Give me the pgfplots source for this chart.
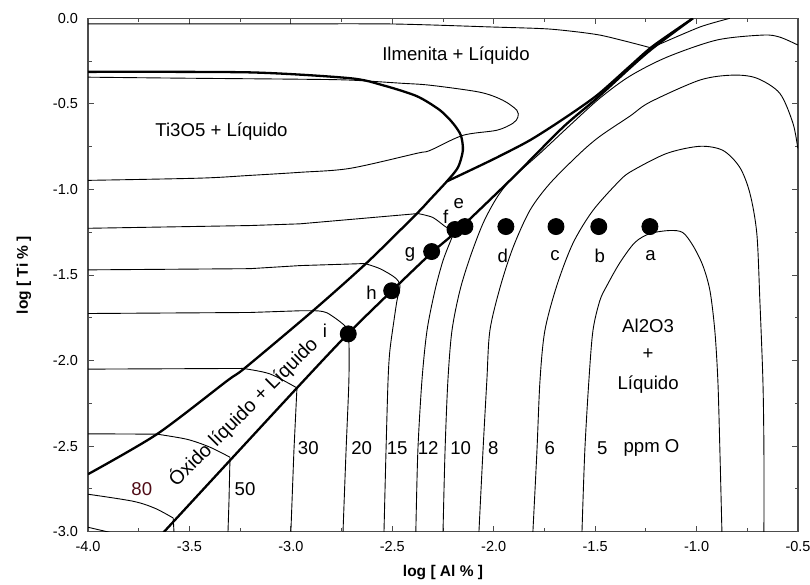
\documentclass[border=0pt]{standalone}
\usepackage{fontspec}
\setmainfont{Liberation Sans}
\usepackage{pgfplots}
\pgfplotsset{compat=1.18}

\newcommand{\lab}{\fontsize{18.6}{20}\selectfont}
\definecolor{axgray}{gray}{0.3}
\definecolor{darkred}{RGB}{80,12,22}

\begin{document}
\begin{tikzpicture}
\path[use as bounding box] (-88pt,-52.3pt) rectangle (722pt,531.7pt);
\begin{axis}[
  at={(0,0)}, anchor=south west,
  scale only axis, width=710pt, height=513.4pt,
  xmin=-4, xmax=-0.5, ymin=-3, ymax=0,
  xtick={-4,-3.5,-3,-2.5,-2,-1.5,-1,-0.5},
  xticklabels={-4.0,-3.5,-3.0,-2.5,-2.0,-1.5,-1.0,-0.5},
  ytick={-3,-2.5,-2,-1.5,-1,-0.5,0},
  yticklabels={-3.0,-2.5,-2.0,-1.5,-1.0,-0.5,0.0},
  minor tick num=1, tick align=inside, tick pos=both,
  major tick length=6pt, minor tick length=3.5pt,
  axis line style={draw=axgray, line width=1.2pt},
  tick style={draw=axgray, line width=1pt},
  tick label style={font=\fontsize{14.5}{16}\selectfont},
  xticklabel style={anchor=center, yshift=-15pt},
  yticklabel style={anchor=east, xshift=-6.5pt},
  xlabel={\bfseries log [ Al \% ]},
  ylabel={\bfseries log [ Ti \% ]},
  label style={font=\fontsize{15.5}{17}\selectfont},
  xlabel style={at={(axis description cs:0.5,-0.0804)}, anchor=center},
  ylabel style={at={(axis description cs:-0.0901,0.5)}, anchor=center},
  every axis plot/.append style={black, line width=0.9pt},
]
% thin iso-oxygen lines
\addplot[smooth, tension=0.4] coordinates {(-4,-0.033) (-3.202,-0.033) (-2.512,-0.033) (-2.004,-0.051) (-1.723,-0.063) (-1.477,-0.098) (-1.230,-0.171)};
\addplot[smooth, tension=0.4] coordinates {(-1.215,-0.168) (-0.984,-0.051) (-0.836,0)};
% loop in Ti3O5 field
\addplot[smooth, tension=0.5] coordinates {(-4,-0.344) (-3.522,-0.350) (-2.955,-0.356) (-2.709,-0.361) (-2.462,-0.379) (-2.314,-0.391) (-2.068,-0.432) (-1.955,-0.479) (-1.886,-0.537) (-1.881,-0.578) (-1.905,-0.613) (-1.984,-0.654) (-2.152,-0.684) (-2.314,-0.772) (-2.379,-0.789) (-2.709,-0.877) (-2.955,-0.900) (-3.202,-0.918) (-3.448,-0.934) (-4,-0.947)};
% f / 12
\addplot[sharp plot] coordinates {(-4,-1.227) (-3.202,-1.211) (-2.955,-1.201) (-2.374,-1.141)};
\addplot[smooth, tension=0.5] coordinates {(-2.374,-1.141) (-2.300,-1.164) (-2.231,-1.223) (-2.191,-1.234)};
\addplot[smooth, tension=0.5] coordinates {(-2.191,-1.234) (-2.206,-1.281) (-2.250,-1.416) (-2.290,-1.592) (-2.329,-1.826) (-2.354,-2.119) (-2.374,-2.529) (-2.384,-3.004)};
% h / 15
\addplot[sharp plot] coordinates {(-4,-1.470) (-3.202,-1.463) (-2.955,-1.445) (-2.635,-1.433)};
\addplot[smooth, tension=0.5] coordinates {(-2.635,-1.433) (-2.561,-1.463) (-2.487,-1.515) (-2.462,-1.562) (-2.477,-1.650) (-2.492,-1.768) (-2.512,-1.943) (-2.521,-2.119) (-2.531,-2.529) (-2.541,-3.004)};
% i / 20
\addplot[sharp plot] coordinates {(-4,-1.725) (-3.202,-1.719) (-2.955,-1.709) (-2.891,-1.709)};
\addplot[smooth, tension=0.5] coordinates {(-2.891,-1.709) (-2.822,-1.721) (-2.724,-1.809) (-2.714,-1.885) (-2.714,-2.119) (-2.728,-2.529) (-2.743,-3.004)};
% 30
\addplot[sharp plot] coordinates {(-4,-2.050) (-3.236,-2.046)};
\addplot[smooth, tension=0.5] coordinates {(-3.236,-2.046) (-3.103,-2.078) (-2.970,-2.160)};
\addplot[sharp plot] coordinates {(-2.970,-2.160) (-2.985,-2.529) (-3.000,-3.004)};
% 50
\addplot[sharp plot] coordinates {(-4,-2.428) (-3.660,-2.430)};
\addplot[smooth, tension=0.5] coordinates {(-3.660,-2.430) (-3.512,-2.460) (-3.399,-2.506) (-3.300,-2.565)};
\addplot[sharp plot] coordinates {(-3.300,-2.565) (-3.305,-2.822) (-3.310,-3.004)};
% 80
\addplot[smooth, tension=0.5] coordinates {(-4,-2.781) (-3.778,-2.822) (-3.670,-2.863) (-3.580,-2.920)};
\addplot[sharp plot] coordinates {(-3.580,-2.920) (-3.576,-3.004)};
\addplot[smooth] coordinates {(-4,-2.974) (-3.892,-3.004)};
% 10
\addplot[smooth, tension=0.5] coordinates {(-2.250,-3.004) (-2.240,-2.529) (-2.226,-2.119) (-2.206,-1.826) (-2.167,-1.592) (-2.117,-1.398) (-2.053,-1.199) (-1.984,-1.047) (-1.910,-0.936) (-1.772,-0.789) (-1.624,-0.625) (-1.477,-0.467) (-1.329,-0.338) (-1.146,-0.227) (-0.900,-0.127) (-0.673,-0.098) (-0.590,-0.110) (-0.501,-0.156)};
% 8
\addplot[smooth, tension=0.5] coordinates {(-2.073,-3.004) (-2.053,-2.529) (-2.034,-2.119) (-2.019,-1.826) (-1.969,-1.574) (-1.905,-1.340) (-1.822,-1.123) (-1.723,-0.965) (-1.575,-0.789) (-1.477,-0.690) (-1.329,-0.572) (-1.230,-0.490) (-0.984,-0.361) (-0.821,-0.332) (-0.703,-0.350) (-0.590,-0.438) (-0.525,-0.613) (-0.501,-0.760)};
% 6
\addplot[smooth, tension=0.5] coordinates {(-1.807,-3.004) (-1.787,-2.529) (-1.772,-2.119) (-1.748,-1.826) (-1.689,-1.562) (-1.610,-1.316) (-1.511,-1.123) (-1.378,-0.947) (-1.314,-0.889) (-1.146,-0.789) (-0.984,-0.748) (-0.870,-0.772) (-0.787,-0.871) (-0.737,-1.023) (-0.703,-1.258) (-0.688,-1.650) (-0.673,-2.119) (-0.668,-2.529) (-0.668,-3.004)};
% 5
\addplot[smooth, tension=0.5] coordinates {(-1.565,-3.004) (-1.551,-2.529) (-1.531,-2.119) (-1.511,-1.826) (-1.477,-1.650) (-1.442,-1.562) (-1.378,-1.428) (-1.304,-1.310) (-1.230,-1.258) (-1.132,-1.240) (-1.068,-1.252) (-1.018,-1.328) (-0.969,-1.445) (-0.934,-1.592) (-0.910,-1.826) (-0.895,-2.119) (-0.885,-2.529) (-0.875,-3.004)};
% phase boundaries
\addplot[smooth, tension=0.45, line width=2.3pt] coordinates {(-4,-0.313) (-3.202,-0.316) (-2.709,-0.350) (-2.547,-0.391) (-2.379,-0.455) (-2.265,-0.537) (-2.201,-0.613) (-2.162,-0.684) (-2.152,-0.772) (-2.176,-0.871) (-2.231,-0.953) (-2.314,-1.059) (-2.379,-1.141) (-2.625,-1.428) (-2.891,-1.709) (-3.226,-2.043) (-3.315,-2.119) (-3.660,-2.430) (-4,-2.664)};
\addplot[smooth, tension=0.45, line width=2.3pt] coordinates {(-2.231,-0.953) (-2.117,-0.889) (-1.984,-0.813) (-1.822,-0.713) (-1.659,-0.590) (-1.491,-0.450) (-1.329,-0.280) (-1.215,-0.162) (-1.018,0)};
\addplot[smooth, tension=0.45, line width=2.3pt] coordinates {(-3.630,-3.007) (-2.970,-2.160) (-2.719,-1.844) (-2.502,-1.592) (-2.305,-1.369) (-2.167,-1.228) (-1.905,-0.930) (-1.659,-0.637) (-1.491,-0.467) (-1.329,-0.291) (-1.215,-0.174) (-1.018,0)};
% analysed compositions
\addplot[only marks, mark=*, mark size=8pt] coordinates {(-1.230,-1.217) (-1.482,-1.217) (-1.693,-1.217) (-1.940,-1.217) (-2.142,-1.217) (-2.191,-1.234) (-2.306,-1.363) (-2.503,-1.592) (-2.717,-1.844)};
% labels
\node[font=\lab] at (axis cs:-2.186,-0.215) {Ilmenita + Líquido};
\node[font=\lab] at (axis cs:-3.342,-0.664) {Ti3O5 + Líquido};
\node[font=\lab] at (axis cs:-1.239,-1.797) {Al2O3};
\node[font=\lab] at (axis cs:-1.239,-1.961) {+};
\node[font=\lab] at (axis cs:-1.239,-2.142) {Líquido};
\node[font=\fontsize{19.6}{21}\selectfont, rotate=45, inner sep=0pt] at (axis cs:-3.235,-2.300) {Óxido líquido + Líquido};
\node[font=\lab, text=darkred] at (axis cs:-3.735,-2.753) {80};
\node[font=\lab] at (axis cs:-3.226,-2.753) {50};
\node[font=\lab] at (axis cs:-2.914,-2.510) {30};
\node[font=\lab] at (axis cs:-2.651,-2.510) {20};
\node[font=\lab] at (axis cs:-2.476,-2.510) {15};
\node[font=\lab] at (axis cs:-2.323,-2.510) {12};
\node[font=\lab] at (axis cs:-2.163,-2.510) {10};
\node[font=\lab] at (axis cs:-2.002,-2.510) {8};
\node[font=\lab] at (axis cs:-1.723,-2.510) {6};
\node[font=\lab] at (axis cs:-1.465,-2.510) {5};
\node[font=\lab] at (axis cs:-1.222,-2.510) {ppm O};
\node[font=\lab] at (axis cs:-1.227,-1.387) {a};
\node[font=\lab] at (axis cs:-1.477,-1.387) {b};
\node[font=\lab] at (axis cs:-1.698,-1.387) {c};
\node[font=\lab] at (axis cs:-1.955,-1.387) {d};
\node[font=\lab] at (axis cs:-2.172,-1.082) {e};
\node[font=\lab] at (axis cs:-2.237,-1.162) {f};
\node[font=\lab] at (axis cs:-2.413,-1.381) {g};
\node[font=\lab] at (axis cs:-2.602,-1.602) {h};
\node[font=\lab] at (axis cs:-2.832,-1.826) {i};
\end{axis}
\end{tikzpicture}
\end{document}
